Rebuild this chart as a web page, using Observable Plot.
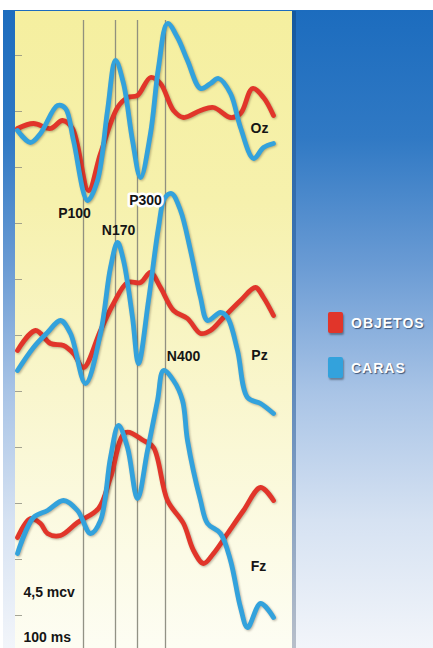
<!DOCTYPE html>
<html>
<head>
<meta charset="utf-8">
<script src="https://cdn.jsdelivr.net/npm/d3@7"></script>
<script src="https://cdn.jsdelivr.net/npm/@observablehq/plot@0.6"></script>
<style>
  html, body { margin: 0; padding: 0; background: #fff; }
  #wrap { position: relative; width: 433px; height: 648px; overflow: hidden; background: #fff; font-family: "Liberation Sans", Arial, sans-serif; }
  .bg { position: absolute; }
  #rightbg { left: 0; top: 10px; width: 433px; height: 638px;
    background: linear-gradient(to bottom, #1c6cbe 0%, #3079c4 20%, #6a9bd4 40%, #a9c4e6 60%, #d6e2f2 80%, #f2f5fa 100%); }
  #leftwhite { left: 0; top: 0; width: 3px; height: 648px; background: #fff; }
  #panel { left: 15px; top: 11px; width: 277px; height: 637px;
    background: linear-gradient(to bottom, #f5ef9f 0%, #f6f1ad 30%, #f9f6cd 60%, #fcfbe6 85%, #fdfdf3 100%); }
  #panelshadow { left: 292px; top: 11px; width: 4px; height: 637px;
    background: linear-gradient(to bottom, #14589f 0%, #4a7cb8 50%, #b8bfca 100%); }
  #chart { position: absolute; left: 0; top: 0; }
  #chart svg { background: transparent; }
  #chart g[aria-label="line"] path { filter: drop-shadow(1px 1.5px 1px rgba(60,40,20,0.35)); }
  .leg { position: absolute; display: flex; align-items: center; }
  .sw { width: 15px; height: 21px; border-radius: 2px; box-shadow: 1px 2px 2px rgba(0,0,0,0.35); }
  .lt { margin-left: 8px; color: #fff; font-weight: bold; font-size: 14px; letter-spacing: 1px;
    text-shadow: 1px 1px 1px rgba(40,60,90,0.8); }
</style>
</head>
<body>
<div id="wrap">
  <div class="bg" id="rightbg"></div>
  <div class="bg" id="leftwhite"></div>
  <div class="bg" id="panel"></div>
  <div class="bg" id="panelshadow"></div>
  <div id="chart"></div>
  <div id="legend"></div>
</div>
<script>
// Time in ms, amplitude in µV (relative to each channel's baseline)
const channels = ["Oz", "Pz", "Fz"];
const channelOffsets = [52, 30, 12];

const ozObjetosT = [0,32,66,90,110,142,166,200,220,240,266,286,312,332,366,392,426,446,470,492,512];
const ozObjetosV = [0,0.5,0,0.8,0,-6.2,-2.5,2.1,3.1,3.3,5.1,4.5,1.8,1.1,1.8,2.1,1.1,1.5,4.0,3.1,1.3];
const ozCarasT = [0,26,46,80,96,112,140,160,180,196,212,230,246,266,282,300,320,340,366,386,402,426,446,472,492,512];
const ozCarasV = [-0.2,-1.4,-0.5,2.3,2.0,-1.2,-7.2,-5.2,1.8,6.8,4.5,-1.2,-4.9,-0.5,6.1,10.5,9.1,6.8,4.0,4.5,5.0,3.5,0.1,-3.0,-1.9,-1.5];

const pzObjetosT = [0,36,66,92,112,132,166,192,220,246,266,286,312,340,366,386,412,446,476,492,512];
const pzObjetosV = [-0.2,1.8,0.5,0.3,-0.5,-1.9,1.8,4.5,6.6,6.6,7.6,6.1,3.8,3.0,1.5,1.8,3.1,4.8,6.1,5.1,3.3];
const pzCarasT = [0,32,60,86,106,136,166,186,200,212,230,242,262,282,294,308,326,346,366,380,406,420,440,460,486,512];
const pzCarasV = [-2.2,0.1,1.6,2.8,1.5,-3.5,1.5,8.1,10.6,8.8,3.1,-1.5,4.8,12.1,15.0,15.5,13.8,9.8,5.1,2.8,3.6,3.1,-0.2,-4.9,-5.5,-6.5];

const fzObjetosT = [0,26,46,60,86,120,162,186,216,252,272,300,332,352,372,392,420,452,486,512];
const fzObjetosV = [-0.9,1.0,0.5,-0.5,-0.7,0.6,2.0,5.1,9.6,8.8,8.1,2.8,0.5,-2.2,-3.5,-2.5,-0.5,1.8,4.1,2.8];
const fzCarasT = [0,32,60,92,120,146,166,186,202,220,240,260,280,292,312,330,340,366,380,406,426,446,460,486,512];
const fzCarasV = [-2.5,1.1,1.8,2.8,1.8,-0.5,0.8,7.1,10.3,8.1,3.0,7.8,12.8,15.8,14.8,12.8,8.8,2.8,0.5,-0.5,-3.2,-7.9,-9.9,-7.5,-8.9];

const markerTimes = [132, 196, 240, 296];
const yTicks = [3.3, 8.9, 14.5, 20.1, 25.7, 31.3, 36.9, 42.5, 48.1, 53.7, 59.3];

const seriesNames = ["OBJETOS", "CARAS"];
const seriesColors = ["#e1352a", "#33a2dc"];

const labelTexts = ["Oz", "P100", "N170", "N400", "Pz", "Fz"];
const labelT = [484, 114, 202, 332, 484, 482];
const labelV = [52.0, 43.5, 41.8, 29.2, 29.3, 8.2];
const peakLabel = {text: "P300", t: 256, v: 44.8};
const scaleTexts = ["4,5 mcv", "100 ms"];
const scaleT = [12, 12];
const scaleV = [5.6, 1.1];

const raw = [
  ["Oz", "OBJETOS", ozObjetosT, ozObjetosV],
  ["Oz", "CARAS", ozCarasT, ozCarasV],
  ["Pz", "OBJETOS", pzObjetosT, pzObjetosV],
  ["Pz", "CARAS", pzCarasT, pzCarasV],
  ["Fz", "OBJETOS", fzObjetosT, fzObjetosV],
  ["Fz", "CARAS", fzCarasT, fzCarasV]
];
const data = raw.flatMap(([ch, s, T, V]) => {
  const off = channelOffsets[channels.indexOf(ch)];
  return T.map((t, i) => ({key: ch + "-" + s, series: s, t, v: off + V[i]}));
});
const labels = labelTexts.map((text, i) => ({text, t: labelT[i], v: labelV[i]}));
const scaleLabels = scaleTexts.map((text, i) => ({text, t: scaleT[i], v: scaleV[i]}));

const font = "Liberation Sans, Arial, sans-serif";
const chart = Plot.plot({
  width: 433,
  height: 648,
  marginLeft: 17,
  marginRight: 143,
  marginTop: 20,
  marginBottom: 0,
  x: {domain: [0, 546], axis: null},
  y: {domain: [0, 62.8], axis: null},
  color: {domain: seriesNames, range: seriesColors},
  style: {background: "transparent", overflow: "visible"},
  marks: [
    Plot.axisY({ticks: yTicks, tickSize: 7, dx: 5, label: null, tickFormat: () => "", stroke: "#8d8d80", strokeOpacity: 0.8}),
    Plot.ruleX(markerTimes, {stroke: "#86867a", strokeWidth: 1.3, strokeOpacity: 0.9}),
    Plot.line(data, {x: "t", y: "v", z: "key", stroke: "series", strokeWidth: 4.8, curve: "catmull-rom", strokeLinejoin: "round", strokeLinecap: "round"}),
    Plot.text(labels, {x: "t", y: "v", text: "text", fontSize: 14, fontWeight: "bold", fill: "#151515", fontFamily: font}),
    Plot.text([peakLabel], {x: "t", y: "v", text: "text", fontSize: 14, fontWeight: "bold", fill: "#151515", stroke: "white", strokeWidth: 5, fontFamily: font}),
    Plot.text(scaleLabels, {x: "t", y: "v", text: "text", textAnchor: "start", fontSize: 14, fontWeight: "bold", fill: "#151515", fontFamily: font})
  ]
});
document.getElementById("chart").appendChild(chart);

// Legend
const legend = document.getElementById("legend");
const legTops = [312, 357];
seriesNames.forEach((name, i) => {
  const item = document.createElement("div");
  item.className = "leg";
  item.style.left = "328px";
  item.style.top = legTops[i] + "px";
  item.innerHTML = `<div class="sw" style="background:${seriesColors[i]}"></div><div class="lt">${name}</div>`;
  legend.appendChild(item);
});
</script>
</body>
</html>
